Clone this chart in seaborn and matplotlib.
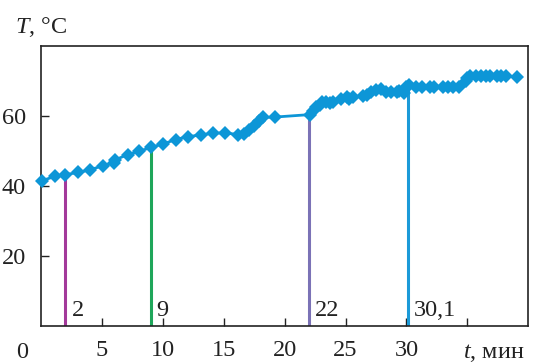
import numpy as np
import matplotlib
matplotlib.use("Agg")
import matplotlib.pyplot as plt
import seaborn as sns

# Temperature record: time (min) and temperature (°C)
time_min = [0.1, 1.15, 2.0, 3.05, 4.05, 5.05, 6.0, 6.1, 7.1, 8.05,
            9.05, 10.0, 11.05, 12.05, 13.1, 14.1, 15.1, 16.2, 16.7, 17.1,
            17.5, 17.9, 18.2, 19.2, 22.05, 22.3, 22.6, 22.9, 23.1, 23.4,
            23.7, 24.0, 24.6, 25.1, 25.3, 25.6, 26.4, 26.8, 27.1, 27.5,
            27.9, 28.3, 28.7, 29.2, 29.4, 29.8, 30.0, 30.25, 30.8, 31.3,
            31.9, 32.3, 33.0, 33.4, 33.8, 34.3, 34.9, 35.0, 35.2, 35.7,
            36.1, 36.5, 36.9, 37.4, 37.8, 38.2, 39.1]
temp_c = [41.5, 42.7, 43.2, 43.8, 44.6, 45.7, 46.6, 47.4, 48.9, 49.8,
          51.0, 51.9, 53.2, 54.0, 54.5, 55.0, 55.1, 54.6, 54.9, 55.8,
          57.1, 58.6, 59.5, 59.6, 60.3, 61.2, 62.4, 63.1, 63.8, 64.0,
          63.6, 64.0, 64.8, 65.3, 64.8, 65.3, 65.7, 65.9, 66.7, 67.4,
          67.6, 66.7, 66.8, 66.8, 67.1, 66.6, 68.1, 68.6, 68.2, 68.2,
          68.2, 68.2, 68.2, 68.2, 68.2, 68.2, 69.9, 70.8, 71.3, 71.3,
          71.3, 71.3, 71.3, 71.3, 71.3, 71.3, 71.0]

# Marked moments and their labels
mark_times = [2.0, 9.0, 22.0, 30.1]
mark_labels = ["2", "9", "22", "30,1"]
mark_colors = ["#a3399a", "#1ea65a", "#7b72b6", "#1b9ad8"]

x_ticks = [5, 10, 15, 20, 25, 30, 35]
x_tick_labels = ["5", "10", "15", "20", "25", "30", ""]
y_ticks = [20, 40, 60]

sns.set_style("ticks")
plt.rcParams["font.family"] = "serif"
plt.rcParams["font.serif"] = ["Liberation Serif", "DejaVu Serif"]
plt.rcParams["mathtext.fontset"] = "custom"
plt.rcParams["mathtext.it"] = "Liberation Serif:italic"
plt.rcParams["mathtext.rm"] = "Liberation Serif"

FS = 17.5
ink = "#222222"

fig = plt.figure(figsize=(5.33, 3.64), dpi=100)
ax = fig.add_axes([0.077, 0.104, 0.914, 0.771])

line_color = "#0d96d7"

# vertical markers from the axis up to the curve
tops = np.interp(mark_times, time_min, temp_c)
for xm, top, col, lab in zip(mark_times, tops, mark_colors, mark_labels):
    ax.vlines(xm, 0, top, color=col, lw=2.2, zorder=2)
    ax.text(xm + 0.5, 2.8, lab, fontsize=FS, ha="left", va="baseline",
            color=ink)

sns.lineplot(x=time_min, y=temp_c, ax=ax, color=line_color, lw=2.0,
             marker="D", markersize=7, markeredgewidth=0, zorder=3,
             clip_on=False)

ax.set_xlim(0, 40)
ax.set_ylim(0, 80)
ax.set_xticks(x_ticks)
ax.set_xticklabels(x_tick_labels)
ax.set_yticks(y_ticks)
ax.tick_params(direction="in", length=5.5, width=1.0, labelsize=FS,
               colors=ink)
ax.tick_params(axis="x", pad=10)
ax.tick_params(axis="y", pad=11)
for s in ax.spines.values():
    s.set_linewidth(1.2)
    s.set_color(ink)

fig.text(22 / 533, 1 - 358 / 364, "0", fontsize=FS, ha="center",
         va="baseline", color=ink)
fig.text(463 / 533, 1 - 358 / 364, r"$t$, мин", fontsize=FS, ha="left",
         va="baseline", color=ink)
fig.text(15 / 533, 1 - 33 / 364, r"$T$, °C", fontsize=FS, ha="left",
         va="baseline", color=ink)

fig.savefig("out.png", dpi=100)
